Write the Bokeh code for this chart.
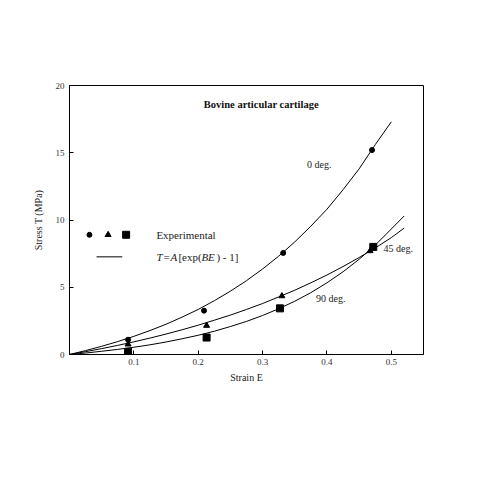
from bokeh.plotting import figure
from bokeh.embed import file_html
from bokeh.resources import INLINE
from bokeh.models import Range1d, FixedTicker
from bokeh.core.properties import value

# Experimental data (strain E, stress T in MPa)
e_0deg = [0.091, 0.209, 0.332, 0.470]
t_0deg = [1.1, 3.26, 7.55, 15.2]
e_45deg = [0.091, 0.213, 0.330, 0.467]
t_45deg = [0.76, 2.15, 4.35, 7.7]
e_90deg = [0.091, 0.213, 0.327, 0.472]
t_90deg = [0.2, 1.26, 3.43, 8.0]

# Fitted curves T = A[exp(BE) - 1]
curve_e0 = [0.0, 0.025, 0.05, 0.075, 0.10, 0.125, 0.15, 0.175, 0.20, 0.225, 0.25,
            0.275, 0.30, 0.325, 0.35, 0.375, 0.40, 0.425, 0.45, 0.475, 0.50]
curve_0deg = [0.0, 0.29, 0.61, 0.96, 1.35, 1.78, 2.25, 2.78, 3.35, 4.0, 4.71,
              5.49, 6.36, 7.31, 8.37, 9.54, 10.8, 12.25, 13.8, 15.6, 17.3]
curve_e45 = [0.0, 0.025, 0.05, 0.075, 0.10, 0.125, 0.15, 0.175, 0.20, 0.225, 0.25,
             0.275, 0.30, 0.325, 0.35, 0.375, 0.40, 0.425, 0.45, 0.475, 0.50, 0.52]
curve_45deg = [0.0, 0.21, 0.44, 0.68, 0.94, 1.22, 1.52, 1.84, 2.18, 2.55, 2.93,
               3.35, 3.79, 4.28, 4.78, 5.33, 5.91, 6.54, 7.21, 7.92, 8.69, 9.4]
curve_e90 = [0.0, 0.025, 0.05, 0.075, 0.10, 0.125, 0.15, 0.175, 0.20, 0.225, 0.25,
             0.275, 0.30, 0.325, 0.35, 0.375, 0.40, 0.425, 0.45, 0.475, 0.50, 0.52]
curve_90deg = [0.0, 0.11, 0.24, 0.38, 0.54, 0.72, 0.93, 1.17, 1.43, 1.73, 2.08,
               2.46, 2.90, 3.40, 3.96, 4.60, 5.33, 6.15, 7.08, 8.13, 9.33, 10.3]

x_ticks = [0.1, 0.2, 0.3, 0.4, 0.5]
y_ticks = [0, 5, 10, 15, 20]

SERIF = "Liberation Serif"

p = figure(width=475, height=475, output_backend="svg", toolbar_location=None,
           x_range=Range1d(0, 0.55), y_range=Range1d(0, 20),
           min_border_left=69, min_border_top=85, min_border_right=52, min_border_bottom=121)
p.grid.visible = False
p.background_fill_color = "white"
p.border_fill_color = "white"
p.outline_line_color = "black"
p.outline_line_width = 1

p.xaxis.ticker = FixedTicker(ticks=x_ticks)
p.yaxis.ticker = FixedTicker(ticks=y_ticks)
for ax in (p.xaxis, p.yaxis):
    ax.major_tick_in = 4
    ax.major_tick_out = 0
    ax.minor_tick_line_color = None
    ax.major_label_text_font = SERIF
    ax.major_label_text_font_size = "9px"
    ax.major_label_text_color = "#333333"
    ax.axis_label_text_font = SERIF
    ax.axis_label_text_font_style = "normal"
    ax.axis_label_text_font_size = "10px"
    ax.axis_label_text_color = "#222222"
    ax.axis_line_color = "black"
p.xaxis.axis_label = "Strain E"
p.yaxis.axis_label = "Stress T (MPa)"
p.xaxis.major_label_standoff = 4
p.xaxis.axis_label_standoff = 4
p.yaxis.axis_label_standoff = 9

# curves
for xs, ys in ((curve_e0, curve_0deg), (curve_e45, curve_45deg), (curve_e90, curve_90deg)):
    p.line(xs, ys, line_color="black", line_width=1)

# data points
p.scatter(e_0deg, t_0deg, marker="circle", size=5, color="black")
p.scatter(e_45deg, t_45deg, marker="triangle", size=6, color="black")
p.scatter(e_90deg, t_90deg, marker="square", size=7, color="black")

# legend (drawn by hand)
p.scatter([0.031], [8.9], marker="circle", size=5, color="black")
p.scatter([0.060], [8.9], marker="triangle", size=6, color="black")
p.scatter([0.088], [8.9], marker="square", size=7, color="black")
p.line([0.042, 0.082], [7.26, 7.26], line_color="black", line_width=1)
p.text([0.135], [8.9], text=["Experimental"], text_font=value(SERIF),
       text_font_size="11px", text_baseline="middle", text_color="#222222")

parts = [("T", "italic", 0), ("=", "normal", 7), ("A", "italic", 14),
         ("[exp(", "normal", 22), ("BE", "italic", 45), (") - 1]", "normal", 60)]
for txt, style, off in parts:
    p.text([0.135], [7.26], text=[txt], text_font=value(SERIF), text_font_style=style,
           text_font_size="11px", text_baseline="middle", text_color="#222222", x_offset=off)

# annotations
p.text([0.298], [18.6], text=["Bovine articular cartilage"], text_font=value(SERIF),
       text_font_style="bold", text_font_size="10.5px", text_align="center",
       text_baseline="middle", text_color="#111111")
p.text([0.369], [14.1], text=["0 deg."], text_font=value(SERIF), text_font_size="10px",
       text_baseline="middle", text_color="#222222")
p.text([0.488], [7.85], text=["45 deg."], text_font=value(SERIF), text_font_size="10px",
       text_baseline="middle", text_color="#222222")
p.text([0.383], [4.15], text=["90 deg."], text_font=value(SERIF), text_font_size="10px",
       text_baseline="middle", text_color="#222222")

open("out.html", "w").write(file_html(p, INLINE))
